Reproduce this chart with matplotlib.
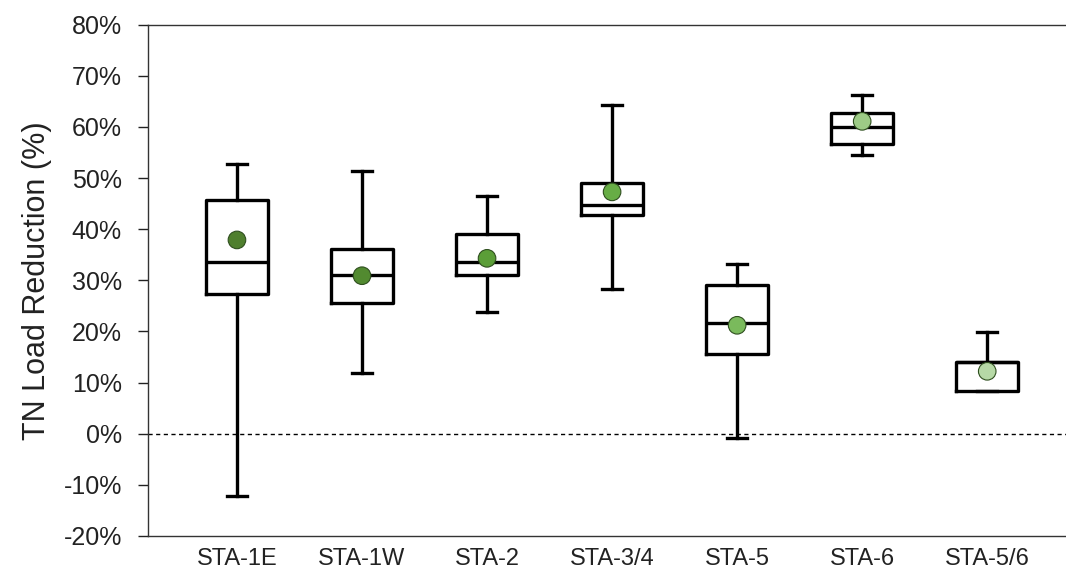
import matplotlib.pyplot as plt
from matplotlib.ticker import FuncFormatter

# values (percent)
stations = ['STA-1E', 'STA-1W', 'STA-2', 'STA-3/4', 'STA-5', 'STA-6', 'STA-5/6']
whisker_low = [-12.1, 11.9, 23.8, 28.3, -0.9, 54.5, 8.4]
q1 = [27.4, 25.6, 31.1, 42.8, 15.6, 56.6, 8.4]
median = [33.5, 31.0, 33.5, 44.8, 21.7, 60.0, 14.1]
q3 = [45.8, 36.2, 39.0, 49.1, 29.1, 62.8, 14.1]
whisker_high = [52.8, 51.4, 46.5, 64.3, 33.2, 66.3, 19.8]
means = [37.9, 30.9, 34.3, 47.3, 21.2, 61.1, 12.2]
mean_colors = ['#4f7f2e', '#528a30', '#5b9e38', '#67ad45', '#7aba5c', '#9dcb86', '#b6d9a6']

plt.rcParams['font.family'] = ['Liberation Sans', 'DejaVu Sans']

fig = plt.figure(figsize=(10.66, 5.75), dpi=100)
ax = fig.add_axes([0.139, 0.068, 0.861, 0.889])

stats = []
for i, name in enumerate(stations):
    stats.append({'label': name, 'whislo': whisker_low[i], 'q1': q1[i], 'med': median[i],
                  'q3': q3[i], 'whishi': whisker_high[i], 'fliers': []})

positions = list(range(len(stations)))
ax.bxp(stats, positions=positions, widths=0.5, showfliers=False,
       boxprops=dict(color='black', linewidth=2.4),
       medianprops=dict(color='black', linewidth=2.4),
       whiskerprops=dict(color='black', linewidth=2.4),
       capprops=dict(color='black', linewidth=2.4),
       capwidths=0.16)

ax.axhline(0, color='black', linestyle=(0, (3, 2.5)), linewidth=1.0, zorder=1)

ax.scatter(positions, means, s=160, c=mean_colors, edgecolors='#2f4f1f', linewidths=0.8, zorder=5)

ax.set_xlim(-0.71, 6.63)
ax.set_ylim(-20, 80)
ax.set_yticks(range(-20, 81, 10))
ax.yaxis.set_major_formatter(FuncFormatter(lambda v, p: f'{v:.0f}%'))
ax.set_xticks(positions)
ax.set_xticklabels(stations)

ax.tick_params(axis='y', labelsize=18, length=7, width=1, direction='out', pad=12, colors='#222222')
ax.tick_params(axis='x', labelsize=17, length=0, pad=9, colors='#222222')
ax.set_ylabel('TN Load Reduction (%)', fontsize=22, labelpad=8, color='#222222')

ax.spines['right'].set_visible(False)
for side in ['left', 'top', 'bottom']:
    ax.spines[side].set_linewidth(1.0)
    ax.spines[side].set_color('#333333')

fig.savefig('out.png', dpi=100)
